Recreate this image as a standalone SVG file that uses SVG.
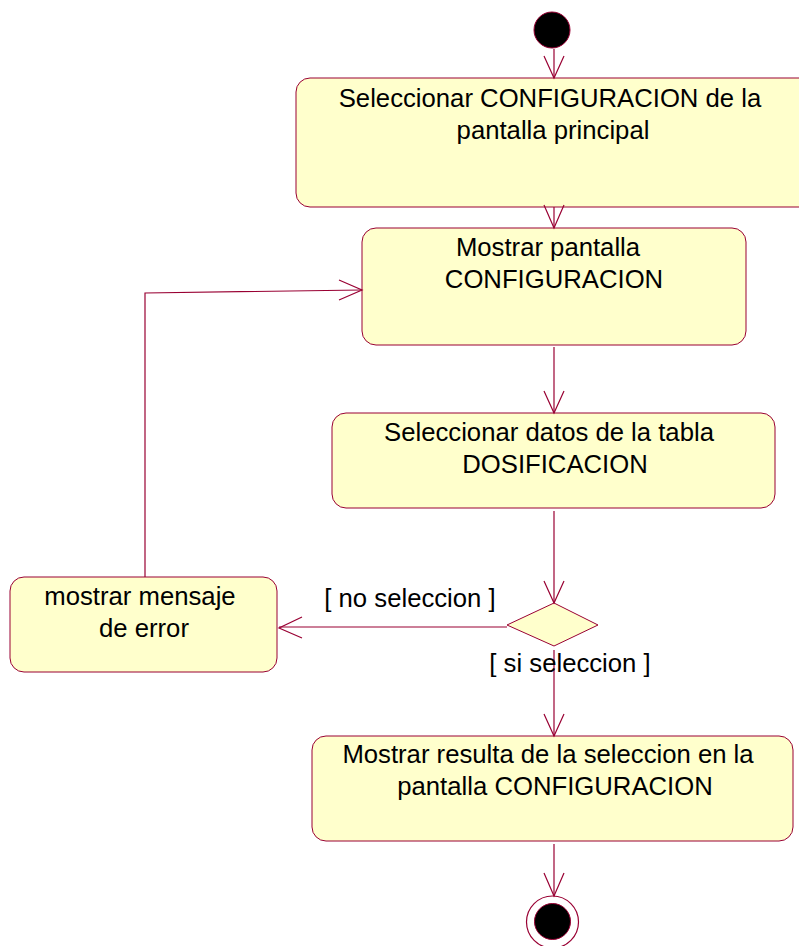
<svg xmlns="http://www.w3.org/2000/svg" width="799" height="946" viewBox="0 0 799 946">
<style>
.node rect, .node polygon { fill: #FFFFCC; stroke: #990033; stroke-width: 1; }
.lbl { font-family: "Liberation Sans", Arial, sans-serif; font-size: 25.7px; fill: #000000; text-anchor: middle; }
.edge { fill: none; stroke: #990033; stroke-width: 1.2; }
.head { fill: none; stroke: #990033; stroke-width: 1.2; }
</style>
<rect x="0" y="0" width="799" height="946" fill="#FFFFFF"/>
<g id="start">
  <circle cx="552" cy="30" r="18" fill="#000000" stroke="#990033" stroke-width="1"/>
</g>
<g id="n1" class="node">
  <rect x="296" y="78" width="520" height="129" rx="14" ry="14"/>
  <text class="lbl" x="550" y="107">Seleccionar CONFIGURACION de la</text>
  <text class="lbl" x="553" y="139">pantalla principal</text>
</g>
<g id="n2" class="node">
  <rect x="362" y="228" width="384" height="117" rx="14" ry="14"/>
  <text class="lbl" x="548" y="256">Mostrar pantalla</text>
  <text class="lbl" x="554" y="288">CONFIGURACION</text>
</g>
<g id="n3" class="node">
  <rect x="332" y="413" width="443" height="95" rx="14" ry="14"/>
  <text class="lbl" x="549" y="441">Seleccionar datos de la tabla</text>
  <text class="lbl" x="555" y="473">DOSIFICACION</text>
</g>
<g id="decision" class="node">
  <polygon points="554,603 598,625 554,646 507,625"/>
</g>
<g id="n_error" class="node">
  <rect x="10" y="577" width="267" height="95" rx="14" ry="14"/>
  <text class="lbl" x="140" y="605">mostrar mensaje</text>
  <text class="lbl" x="144" y="637">de error</text>
</g>
<g id="n4" class="node">
  <rect x="312" y="736" width="481" height="105" rx="14" ry="14"/>
  <text class="lbl" x="548" y="763">Mostrar resulta de la seleccion en la</text>
  <text class="lbl" x="555" y="795">pantalla CONFIGURACION</text>
</g>
<g id="end">
  <circle cx="552.5" cy="922" r="26" fill="#FFFFFF" stroke="#990033" stroke-width="1.2"/>
  <circle cx="552.5" cy="921.5" r="18" fill="#000000" stroke="#990033" stroke-width="1"/>
</g>
<g id="connectors">
  <path class="edge" d="M554,49 V78"/>
  <path class="head" d="M544,56 L554,78 L564,56"/>
  <path class="edge" d="M554,207 V228"/>
  <path class="head" d="M544,205 L554,228 L564,205"/>
  <path class="edge" d="M554,347 V413"/>
  <path class="head" d="M544,391 L554,413 L564,391"/>
  <path class="edge" d="M554,511 V603"/>
  <path class="head" d="M544,581 L554,603 L564,581"/>
  <path class="edge" d="M507,627 H279"/>
  <path class="head" d="M302,617 L279,628 L302,638"/>
  <path class="edge" d="M554,650 V736"/>
  <path class="head" d="M544,714 L554,736 L564,714"/>
  <path class="edge" d="M554,844 V896"/>
  <path class="head" d="M544,873 L554,896 L564,873"/>
  <path class="edge" d="M145,577 V293 L362,290"/>
  <path class="head" d="M339,280 L362,290 L339,300"/>
  <text class="lbl" x="410" y="607">[ no seleccion ]</text>
  <text class="lbl" x="570" y="672">[ si seleccion ]</text>
</g>
</svg>
